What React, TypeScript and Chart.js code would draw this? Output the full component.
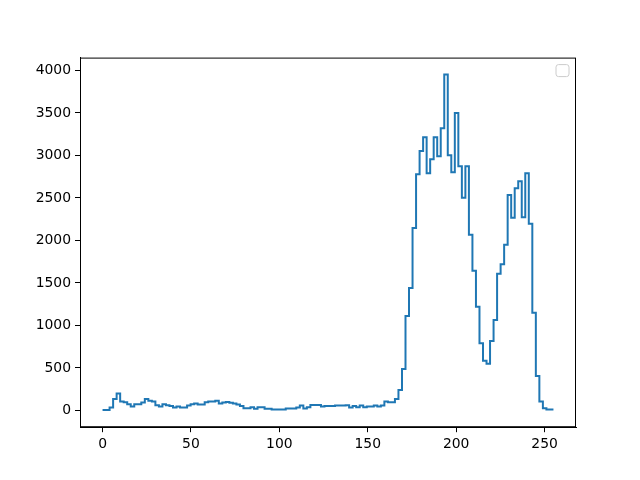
import React, { useEffect, useRef } from "react";
import { Chart, registerables } from "chart.js";

Chart.register(...registerables);

// Histogram: 128 bins spanning 0..255
const BIN_COUNT = 128;
const RANGE_MIN = 0;
const RANGE_MAX = 255;

const counts: number[] = [
  6, 6, 33, 135, 198, 104, 96, 72, 45, 72,
  72, 92, 135, 115, 104, 61, 45, 72, 61, 53,
  33, 45, 33, 33, 57, 72, 80, 69, 69, 95,
  105, 105, 115, 80, 92, 100, 90, 80, 69, 53,
  25, 25, 37, 18, 37, 37, 18, 18, 10, 10,
  10, 10, 22, 22, 22, 33, 57, 22, 37, 65,
  65, 65, 45, 53, 53, 53, 57, 57, 57, 61,
  33, 53, 37, 57, 37, 45, 45, 57, 45, 57,
  104, 96, 96, 135, 241, 488, 1110, 1440, 2145, 2779,
  3053, 3214, 2791, 2955, 3214, 2991, 3320, 3954, 3002, 2803,
  3500, 2873, 2501, 2873, 2068, 1643, 1220, 789, 585, 550,
  817, 1063, 1608, 1721, 1949, 2536, 2266, 2615, 2697, 2274,
  2791, 2195, 1150, 405, 104, 25, 10, 10,
];

const xTicks: number[] = [0, 50, 100, 150, 200, 250];
const yTicks: number[] = [0, 500, 1000, 1500, 2000, 2500, 3000, 3500, 4000];

const FONT = "'DejaVu Sans', sans-serif";

export default function App() {
  const ref = useRef<HTMLCanvasElement>(null);

  useEffect(() => {
    document.body.style.margin = "0";
    const canvas = ref.current!;
    const width = (RANGE_MAX - RANGE_MIN) / BIN_COUNT;
    const pts: { x: number; y: number }[] = counts.map((c, i) => ({
      x: RANGE_MIN + i * width,
      y: c,
    }));
    pts.push({ x: RANGE_MAX, y: counts[counts.length - 1] });

    const maxVal = Math.max(...counts);
    const yMin = -0.05 * maxVal;
    const yMax = maxVal * 1.05;
    const xSpan = RANGE_MAX - RANGE_MIN;
    const xMin = RANGE_MIN - 0.05 * xSpan;
    const xMax = RANGE_MAX + 0.05 * xSpan;

    const framePlugin = {
      id: "frame",
      afterDraw(chart: any) {
        const { ctx, chartArea } = chart;
        const { left, right, top, bottom } = chartArea;
        ctx.save();
        ctx.strokeStyle = "#000";
        ctx.lineWidth = 1;
        ctx.strokeRect(left + 0.5, top + 0.5, right - left - 1, bottom - top - 1);
        // empty legend frame
        const w = 13, h = 12, r = 2.5;
        const x0 = right - 7 - w;
        const y0 = top + 7;
        ctx.beginPath();
        ctx.moveTo(x0 + r, y0);
        ctx.lineTo(x0 + w - r, y0);
        ctx.quadraticCurveTo(x0 + w, y0, x0 + w, y0 + r);
        ctx.lineTo(x0 + w, y0 + h - r);
        ctx.quadraticCurveTo(x0 + w, y0 + h, x0 + w - r, y0 + h);
        ctx.lineTo(x0 + r, y0 + h);
        ctx.quadraticCurveTo(x0, y0 + h, x0, y0 + h - r);
        ctx.lineTo(x0, y0 + r);
        ctx.quadraticCurveTo(x0, y0, x0 + r, y0);
        ctx.closePath();
        ctx.fillStyle = "rgba(255,255,255,0.8)";
        ctx.fill();
        ctx.strokeStyle = "#cccccc";
        ctx.lineWidth = 1;
        ctx.stroke();
        ctx.restore();
      },
    };

    const chart = new Chart(canvas, {
      type: "line",
      data: {
        datasets: [
          {
            data: pts,
            stepped: "before" as any,
            borderColor: "#1f77b4",
            borderWidth: 2,
            pointRadius: 0,
            fill: false,
          },
        ],
      },
      options: {
        animation: false,
        responsive: false,
        maintainAspectRatio: false,
        layout: { padding: { left: 0, right: 64, top: 57.6, bottom: 0 } },
        plugins: { legend: { display: false }, tooltip: { enabled: false } },
        scales: {
          x: {
            type: "linear",
            min: xMin,
            max: xMax,
            afterBuildTicks: (s: any) => {
              s.ticks = xTicks.map((v) => ({ value: v }));
            },
            afterFit: (s: any) => {
              s.height = 480 - 427.2;
            },
            grid: {
              drawOnChartArea: false,
              drawTicks: true,
              tickLength: 5,
              color: "#000",
              lineWidth: 1,
            },
            border: { display: true, color: "#000", width: 1 },
            ticks: {
              color: "#000",
              padding: 4,
              maxRotation: 0,
              font: { family: FONT, size: 13.9 },
              callback: (v: any) => String(v),
            },
          },
          y: {
            type: "linear",
            min: yMin,
            max: yMax,
            afterBuildTicks: (s: any) => {
              s.ticks = yTicks.map((v) => ({ value: v }));
            },
            afterFit: (s: any) => {
              s.width = 80;
            },
            grid: {
              drawOnChartArea: false,
              drawTicks: true,
              tickLength: 5,
              color: "#000",
              lineWidth: 1,
            },
            border: { display: true, color: "#000", width: 1 },
            ticks: {
              color: "#000",
              padding: 4,
              font: { family: FONT, size: 13.9 },
              callback: (v: any) => String(v),
            },
          },
        },
      },
      plugins: [framePlugin],
    } as any);

    return () => chart.destroy();
  }, []);

  return (
    <div style={{ position: "absolute", left: 0, top: 0, width: 640, height: 480, background: "#fff" }}>
      <canvas ref={ref} width={640} height={480} style={{ width: 640, height: 480 }} />
    </div>
  );
}
